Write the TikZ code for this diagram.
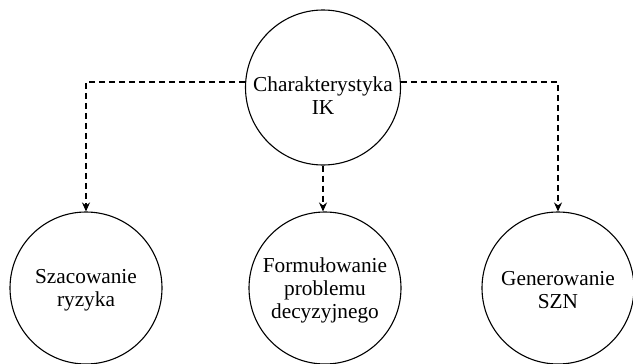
\documentclass[tikz,border=0pt]{standalone}
\usepackage{fontspec}
\setmainfont{Liberation Serif}
\usetikzlibrary{arrows.meta}
\begin{document}
\begin{tikzpicture}[x=1pt,y=-1pt,
  bubble/.style={draw, circle, line width=1.1pt, inner sep=0pt},
  big/.style={bubble, minimum size=155pt},
  small/.style={bubble, minimum size=152pt},
  caption/.style={align=center, font=\fontsize{21.3}{23}\selectfont, inner sep=0pt},
  link/.style={line width=1.2pt, dash pattern=on 6pt off 4pt, -{Stealth[length=9pt,width=8pt]}}
]
\useasboundingbox (0,0) rectangle (633,364);

% circles
\node[big]   (top) at (323,87.5) {};
\node[small] (ris) at (86,288)   {};
\node[small] (dec) at (325,288)  {};
\node[small] (gen) at (558,288)  {};

% texts
\node[caption] (topt) at (323,96)  {Charakterystyka\\IK};
\node[caption] (rist) at (86,290)  {Szacowanie\\ryzyka};
\node[caption] (dect) at (325,290) {Formułowanie\\problemu\\decyzyjnego};
\node[caption] (gent) at (558,290) {Generowanie\\SZN};

% connectors
\draw[link] (top.176) -| (ris.north);
\draw[link] (top.4) -| (gen.north);
\draw[link] (top.south) -- (top.south |- dec.north);
\end{tikzpicture}
\end{document}
